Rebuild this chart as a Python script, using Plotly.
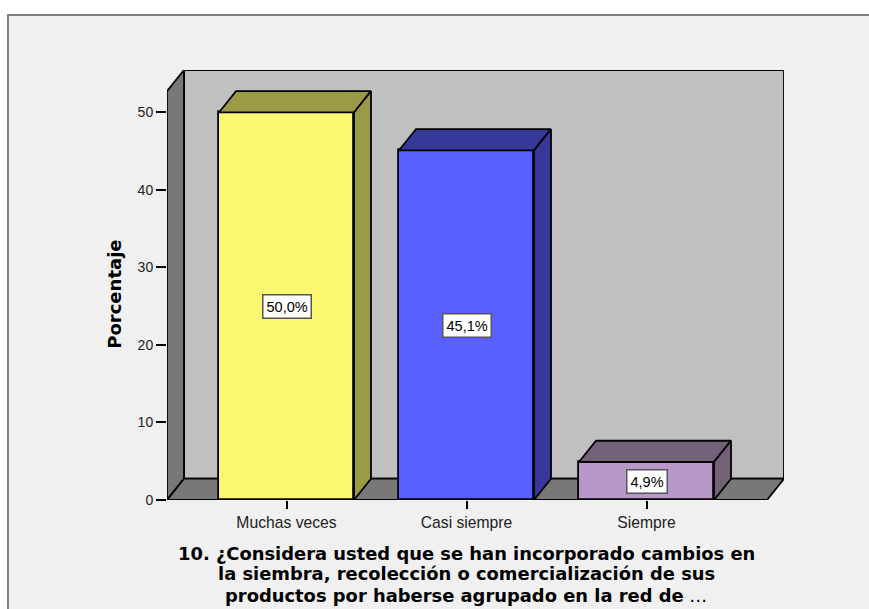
import plotly.graph_objects as go

categories = ["Muchas veces", "Casi siempre", "Siempre"]
values = [50.0, 45.1, 4.9]
labels = ["50,0%", "45,1%", "4,9%"]
y_ticks = [0, 10, 20, 30, 40, 50]
front_colors = ["#FBF771", "#5A5FFF", "#B898C8"]
side_colors = ["#9B9A45", "#36399A", "#736079"]
title_lines = [
    "<b>10. ¿Considera usted que se han incorporado cambios en</b>",
    "<b>la siembra, recolección o comercialización de sus</b>",
    "<b>productos por haberse agrupado en la red de</b> …",
]
title_y_px = [554, 574.5, 596]
y_title = "Porcentaje"

# pixel layout of the plot box
W, H = 869, 609
L, R, T, B = 167, 784, 70, 500.5
PX_PER_UNIT = (B - 112.5) / 50   # vertical px per percent
PX_PER_CAT = 180.0   # horizontal px per category
X0_PX = 286.5        # px of first category
BAR_W = 0.75
DX = 17 / PX_PER_CAT      # depth in x units
DY = 21.3 / PX_PER_UNIT   # depth in y units
xmin = (L - X0_PX) / PX_PER_CAT
xmax = (R - X0_PX) / PX_PER_CAT
ymax = (B - T) / PX_PER_UNIT
front_right = xmax - DX
AXIS_TOP = ymax - DY
LINE = dict(color="#000000", width=1.8)


def poly(pts):
    return "M " + " L ".join(f"{x},{y}" for x, y in pts) + " Z"


shapes = [
    # panel behind the chart
    dict(type="rect", xref="paper", yref="paper", layer="below",
         x0=(8 - L) / (R - L), x1=(880 - L) / (R - L),
         y0=(B - 620) / (B - T), y1=(B - 15) / (B - T),
         fillcolor="#F0F0F0", line=dict(color="#808080", width=2)),
    # back wall
    dict(type="path", layer="below", fillcolor="#C0C0C0", line=LINE,
         path=poly([(xmin + DX, DY), (xmax, DY), (xmax, ymax), (xmin + DX, ymax)])),
    # left wall
    dict(type="path", layer="below", fillcolor="#787878", line=LINE,
         path=poly([(xmin, 0), (xmin + DX, DY), (xmin + DX, ymax), (xmin, AXIS_TOP)])),
    # floor
    dict(type="path", layer="below", fillcolor="#787878", line=LINE,
         path=poly([(xmin, 0), (front_right, 0), (xmax, DY), (xmin + DX, DY)])),
]

fig = go.Figure()
fig.add_trace(go.Bar(
    x=list(range(len(categories))), y=values, width=BAR_W,
    marker=dict(color=front_colors, line=LINE), showlegend=False,
))

for i, v in enumerate(values):
    a, b = i - BAR_W / 2, i + BAR_W / 2
    top = [(a, v), (a + DX, v + DY), (b + DX, v + DY), (b, v), (a, v)]
    side = [(b, 0), (b + DX, DY), (b + DX, v + DY), (b, v), (b, 0)]
    for pts in (top, side):
        fig.add_trace(go.Scatter(
            x=[p[0] for p in pts], y=[p[1] for p in pts],
            mode="lines", fill="toself", fillcolor=side_colors[i],
            line=LINE, showlegend=False, hoverinfo="skip",
        ))

annotations = [
    dict(x=i, y=v / 2, text=labels[i], showarrow=False,
         font=dict(family="Liberation Sans", size=14.5, color="#000000"),
         bgcolor="#FFFFFF", bordercolor="#555555", borderwidth=1.5, borderpad=3)
    for i, v in enumerate(values)
]
annotations.append(dict(
    xref="paper", yref="paper", x=(115 - L) / (R - L), y=(B - 295) / (B - T),
    xanchor="center", yanchor="middle",
    text=f"<b>{y_title}</b>", textangle=-90, showarrow=False,
    font=dict(family="DejaVu Sans", size=18, color="#000000"),
))
for line, py in zip(title_lines, title_y_px):
    annotations.append(dict(
        xref="paper", yref="paper", x=(466 - L) / (R - L), y=(B - py) / (B - T),
        xanchor="center", yanchor="middle",
        text=line, showarrow=False, align="center",
        font=dict(family="DejaVu Sans", size=17.9, color="#000000"),
    ))

fig.update_layout(
    width=W, height=H, autosize=False,
    margin=dict(l=L, r=W - R, t=T, b=H - B, pad=0),
    paper_bgcolor="#FFFFFF", plot_bgcolor="rgba(0,0,0,0)",
    shapes=shapes, annotations=annotations, bargap=0,
    xaxis=dict(range=[xmin, xmax], tickmode="array", tickvals=list(range(len(categories))),
               ticktext=categories, ticks="outside", ticklen=8, tickwidth=1.5, tickcolor="#000000",
               showgrid=False, zeroline=False, showline=False,
               tickfont=dict(family="Liberation Sans", size=15.7, color="#222222")),
    yaxis=dict(range=[0, ymax], tickmode="array", tickvals=y_ticks,
               ticks="outside", ticklen=10, tickwidth=1.5, tickcolor="#000000",
               showgrid=False, zeroline=False, showline=False,
               tickfont=dict(family="Liberation Sans", size=14, color="#222222")),
)

fig.write_html("out.html", config=dict(displayModeBar=False),
               post_script="document.body.style.margin='0';")
